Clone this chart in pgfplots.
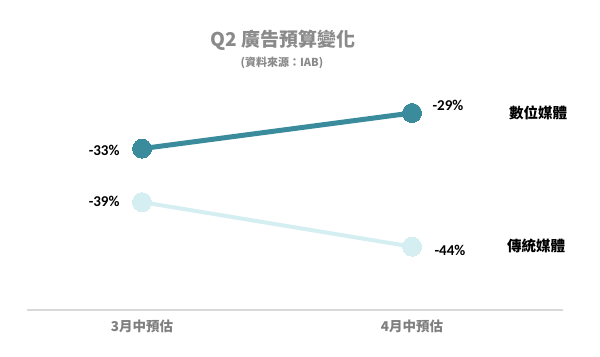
\documentclass[border=0pt]{standalone}
\usepackage{fontspec}
\usepackage{pgfplots}
\pgfplotsset{compat=1.18}
\setmainfont{Noto Sans CJK TC}
\newfontfamily\carlito{Carlito}
\definecolor{dark}{HTML}{3A8B9B}
\definecolor{light}{HTML}{D4EEF2}
\definecolor{axisgray}{HTML}{D9D9D9}
\definecolor{tickgray}{HTML}{7F7F7F}
\definecolor{titlegray}{HTML}{8A8A8A}
\begin{document}
\begin{tikzpicture}
\begin{axis}[
  scale only axis, width=536pt, height=230pt,
  xmin=-0.426, xmax=1.559, ymin=-51.1, ymax=-25.3,
  axis x line=bottom, axis y line=none,
  x axis line style={draw=axisgray, line width=2pt, -},
  xtick={0,1}, xticklabels={3月中預估,4月中預估},
  major tick length=0pt,
  xticklabel style={font=\fontsize{13.5}{15}\selectfont\bfseries, text=tickgray, yshift=-6pt},
  ytick=\empty,
  clip=false,
]
\addplot[color=light, line width=4pt, mark=*, mark size=9.5pt, mark options={fill=light, draw=light, line width=0pt}] coordinates {(0,-39) (1,-44)};
\addplot[color=dark, line width=5pt, mark=*, mark size=9.5pt, mark options={fill=dark, draw=dark, line width=0pt}] coordinates {(0,-33) (1,-29)};
\node[anchor=east, font=\carlito\bfseries\fontsize{15}{17}\selectfont, xshift=-19pt, yshift=-2pt] at (axis cs:0,-33) {-33\%};
\node[anchor=east, font=\carlito\bfseries\fontsize{15}{17}\selectfont, xshift=-19pt, yshift=1pt] at (axis cs:0,-39) {-39\%};
\node[anchor=west, font=\carlito\bfseries\fontsize{15}{17}\selectfont, xshift=17pt, yshift=8pt] at (axis cs:1,-29) {-29\%};
\node[anchor=west, font=\carlito\bfseries\fontsize{15}{17}\selectfont, xshift=19pt, yshift=-4pt] at (axis cs:1,-44) {-44\%};
\node[font=\bfseries\fontsize{14.5}{16}\selectfont] at (axis cs:1.4667,-29) {數位媒體};
\node[font=\bfseries\fontsize{14.5}{16}\selectfont] at (axis cs:1.459,-43.93) {傳統媒體};
\node[font=\bfseries\fontsize{19}{21}\selectfont, text=titlegray] at (rel axis cs:0.4776,1.174) {Q2 廣告預算變化};
\node[font=\bfseries\fontsize{11}{13}\selectfont, text=titlegray] at (rel axis cs:0.4757,1.075) {(資料來源：IAB)};
\coordinate (bl) at (rel axis cs:-0.05037,-0.2);
\coordinate (tr) at (rel axis cs:1.069,1.3478);
\end{axis}
\pgfresetboundingbox
\useasboundingbox (bl) rectangle (tr);
\end{tikzpicture}
\end{document}
